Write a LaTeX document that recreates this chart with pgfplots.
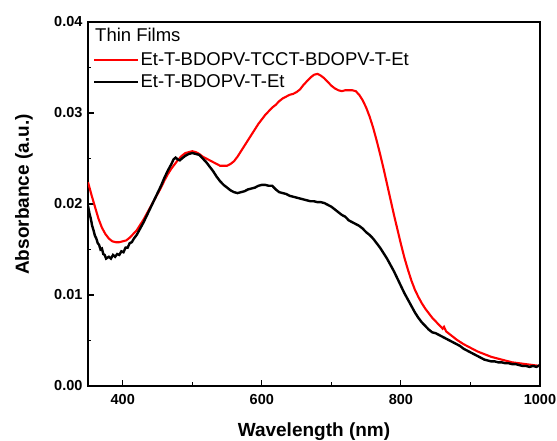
\documentclass[border=0pt]{standalone}
\usepackage{pgfplots}
\pgfplotsset{compat=1.18}
\usepackage{fontspec}
\setmainfont{Liberation Sans}

\pgfplotstableread{
x y
350 0.0224
355 0.0210
360 0.0197
365 0.0184
370 0.0174
375 0.0167
380 0.0162
385 0.0159
390 0.0158
395 0.0158
400 0.0159
405 0.0160
410 0.0163
415 0.0167
420 0.0171
425 0.0177
430 0.0183
435 0.0190
440 0.0197
445 0.0204
450 0.0211
455 0.0218
460 0.0226
465 0.0233
470 0.0239
475 0.0244
480 0.0249
485 0.0253
490 0.0256
495 0.0257
500 0.0258
505 0.0257
510 0.0255
515 0.0252
520 0.0250
525 0.0248
530 0.0246
535 0.0244
540 0.0242
545 0.0242
550 0.0242
555 0.0244
560 0.0247
565 0.0252
570 0.0258
575 0.0264
580 0.0270
585 0.0276
590 0.0282
595 0.0288
600 0.0293
605 0.0298
610 0.0302
615 0.0306
620 0.0309
625 0.0313
630 0.0316
635 0.0318
640 0.0320
645 0.0321
650 0.0323
655 0.0326
660 0.0331
665 0.0335
670 0.0339
675 0.0342
680 0.0343
685 0.0341
690 0.0338
695 0.0334
700 0.0330
705 0.0327
710 0.0325
715 0.0324
720 0.0325
725 0.0325
730 0.0325
735 0.0324
740 0.0320
745 0.0314
750 0.0306
755 0.0296
760 0.0284
765 0.0270
770 0.0255
775 0.0239
780 0.0222
785 0.0205
790 0.0188
795 0.0172
800 0.0156
805 0.0141
810 0.0128
815 0.0116
820 0.0106
825 0.0098
830 0.0091
835 0.0085
840 0.0080
845 0.0075
850 0.0071
855 0.0067
860 0.0063
862 0.0065
865 0.0060
870 0.0057
880 0.0051
890 0.0046
900 0.0042
910 0.0038
920 0.0035
930 0.0032
940 0.0030
950 0.0028
960 0.0026
970 0.0025
980 0.0024
990 0.0023
1000 0.0022
}\redtable

\pgfplotstableread{
x y
350 0.0198
352 0.0190
354 0.0184
356 0.0176
358 0.0171
360 0.0165
362 0.0162
364 0.0157
366 0.0155
368 0.0150
370 0.0151
372 0.0145
374 0.0144
376 0.0140
378 0.0141
380 0.0142
383 0.0140
386 0.0144
389 0.0142
392 0.0145
395 0.0144
398 0.0148
401 0.0147
404 0.0152
407 0.0152
410 0.0157
413 0.0158
416 0.0162
420 0.0166
425 0.0173
430 0.0180
435 0.0188
440 0.0196
445 0.0204
450 0.0212
455 0.0220
460 0.0229
465 0.0237
470 0.0244
473 0.0249
476 0.0251
479 0.0249
482 0.0248
485 0.0250
490 0.0253
495 0.0255
500 0.0256
505 0.0255
510 0.0254
515 0.0250
520 0.0246
525 0.0241
530 0.0236
535 0.0230
540 0.0225
545 0.0221
550 0.0218
555 0.0215
560 0.0213
565 0.0212
570 0.0213
575 0.0214
580 0.0216
585 0.0217
590 0.0218
595 0.0220
600 0.0221
605 0.0221
610 0.0220
615 0.0220
620 0.0216
625 0.0213
630 0.0212
635 0.0211
640 0.0209
645 0.0208
650 0.0207
655 0.0206
660 0.0205
665 0.0204
670 0.0203
675 0.0203
680 0.0202
685 0.0202
690 0.0201
695 0.0199
700 0.0197
705 0.0194
710 0.0191
715 0.0188
720 0.0186
725 0.0182
730 0.0180
735 0.0178
740 0.0176
745 0.0173
750 0.0169
755 0.0166
760 0.0162
765 0.0157
770 0.0152
775 0.0146
780 0.0140
785 0.0133
790 0.0126
795 0.0118
800 0.0110
805 0.0102
810 0.0095
815 0.0088
820 0.0081
825 0.0075
830 0.0070
835 0.0066
840 0.0062
845 0.0059
850 0.0058
855 0.0056
860 0.0054
865 0.0052
870 0.0050
875 0.0048
880 0.0046
885 0.0044
890 0.0041
895 0.0039
900 0.0037
905 0.0035
910 0.0033
915 0.0031
920 0.0029
925 0.0028
930 0.0027
935 0.0027
940 0.0026
945 0.0026
950 0.0025
955 0.0025
960 0.0024
965 0.0024
970 0.0023
975 0.0022
980 0.0022
985 0.0021
990 0.0022
995 0.0021
1000 0.0023
}\blacktable

\begin{document}
\begin{tikzpicture}
\begin{axis}[
  at={(0,0)}, anchor=south west,
  scale only axis, width=452pt, height=364pt,
  xmin=350, xmax=1000, ymin=0, ymax=0.04,
  xtick={400,600,800,1000}, minor xtick={500,700,900},
  ytick={0,0.01,0.02,0.03,0.04}, minor ytick={0.005,0.015,0.025,0.035},
  tick pos=left, tick align=inside,
  major tick length=6pt, minor tick length=3.5pt,
  every tick/.style={black, line width=1.1pt},
  axis line style={line width=1.3pt},
  /pgf/number format/assume math mode=true,
  scaled y ticks=false,
  yticklabel style={/pgf/number format/.cd, fixed, fixed zerofill, precision=2, /tikz/.cd, xshift=-2pt},
  xticklabel style={/pgf/number format/.cd, fixed, 1000 sep={}, /tikz/.cd, yshift=-5pt},
  ticklabel style={font=\fontsize{14.5}{16}\selectfont\bfseries},
  xlabel={Wavelength (nm)}, ylabel={Absorbance (a.u.)},
  label style={font=\fontsize{19}{22}\selectfont\bfseries},
  xlabel style={at={(axis description cs:0.5,-0.1264)}, anchor=center},
  ylabel style={at={(axis description cs:-0.1416,0.526)}, anchor=center},
  legend style={at={(axis description cs:0.011,0.9195)}, anchor=north west,
    draw=none, fill=none, font=\fontsize{18.5}{21}\selectfont,
    row sep=6pt, inner sep=0pt, nodes={inner sep=1pt},
    /tikz/every odd column/.append style={column sep=0pt}},
  legend cell align=left,
  legend image code/.code={\draw[#1] (0pt,0pt) -- (44pt,0pt);},
]
\addplot[red, line width=2.1pt] table[x=x,y=y] {\redtable};
\addlegendentry{Et-T-BDOPV-TCCT-BDOPV-T-Et}
\addplot[black, line width=2.4pt] table[x=x,y=y] {\blacktable};
\addlegendentry{Et-T-BDOPV-T-Et}
\node[anchor=west, font=\fontsize{18.5}{21}\selectfont, inner sep=0pt] at (axis description cs:0.0155,0.964) {Thin Films};
\end{axis}
\pgfresetboundingbox
\useasboundingbox (-88pt,-55pt) rectangle (469pt,386pt);
\end{tikzpicture}
\end{document}
